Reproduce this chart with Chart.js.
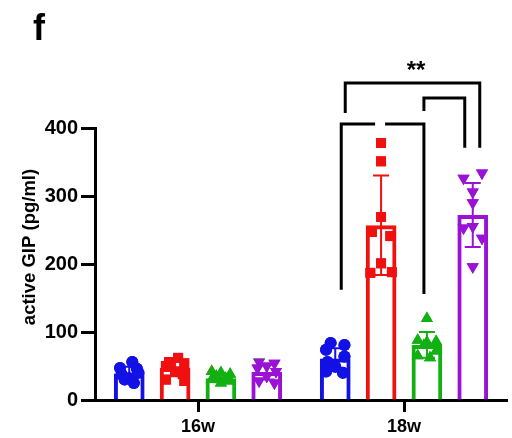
<!DOCTYPE html>
<html>
<head>
<meta charset="utf-8">
<script src="https://cdn.jsdelivr.net/npm/chart.js@4/dist/chart.umd.min.js"></script>
<style>
  html, body { margin: 0; padding: 0; background: #fff; }
  canvas { display: block; }
</style>
</head>
<body>
<canvas id="chart" width="512" height="438"></canvas>
<script>
// groups on the x axis
const groups = ['16w', '18w'];
const yTicks = [0, 100, 200, 300, 400];
const panelLabel = 'f';
const yTitle = 'active GIP (pg/ml)';
const sigText = '**';

// bar heights (group means)
const blueMean = [39, 61];
const redMean = [47, 257];
const greenMean = [32, 81];
const purpleMean = [41, 272];

// upper error (SD)
const blueSd = [10, 15];
const redSd = [12, 73];
const greenSd = [6, 19];
const purpleSd = [11, 47];

// individual points, one list per bar
const bluePts = [[56, 47, 46, 40, 38, 32, 30, 25], [84, 81, 74, 64, 56, 49, 42, 40]];
const redPts = [[62, 56, 54, 50, 42, 38, 30, 28], [378, 351, 269, 247, 241, 201, 187, 188]];
const greenPts = [[42, 40, 38, 35, 32, 30, 28, 25], [120, 88, 86, 85, 80, 72, 65, 62]];
const purplePts = [[56, 54, 50, 47, 42, 35, 28, 25], [334, 326, 306, 290, 255, 253, 238, 196]];

const colors = ['#1212e6', '#f01010', '#12b012', '#9a12d6'];
const markers = [
  { pointStyle: 'circle', radius: 6, rotation: 0 },
  { pointStyle: 'rect', radius: 7, rotation: 0 },
  { pointStyle: 'triangle', radius: 7, rotation: 0 },
  { pointStyle: 'triangle', radius: 7, rotation: 180 }
];
// horizontal spread of the points, as a share of bar width
const jitter = [
  [[0.1, -0.3, 0.25, 0.3, -0.25, 0, -0.15, 0.15], [-0.15, 0.3, -0.3, 0.3, -0.25, 0, -0.3, 0.25]],
  [[0.1, -0.2, 0.3, -0.3, 0, 0.25, -0.3, 0.3], [0, 0, 0, -0.3, 0.3, 0, -0.35, 0.35]],
  [[-0.3, 0, 0.3, -0.15, 0.15, -0.3, 0.3, 0], [0, -0.3, 0.3, 0, -0.1, 0.3, -0.3, 0.1]],
  [[-0.25, 0.25, 0, -0.3, 0.3, 0, -0.25, 0.25], [0.3, -0.3, 0, 0, 0, -0.3, 0.3, 0]]
];

const allPts = [bluePts, redPts, greenPts, purplePts];
const allSd = [blueSd, redSd, greenSd, purpleSd];

const extras = {
  id: 'extras',
  afterDatasetsDraw(chart) {
    const ctx = chart.ctx;
    const y = chart.scales.y;
    chart.data.datasets.forEach((ds, di) => {
      const meta = chart.getDatasetMeta(di);
      meta.data.forEach((bar, gi) => {
        const w = bar.width;
        // points
        allPts[di][gi].forEach((v, k) => {
          Chart.helpers.drawPoint(ctx, {
            pointStyle: markers[di].pointStyle,
            radius: markers[di].radius,
            rotation: markers[di].rotation,
            borderWidth: 0
          }, bar.x + jitter[di][gi][k] * w, y.getPixelForValue(v));
          ctx.fillStyle = colors[di];
          ctx.fill();
        });
        // error bar
        const top = y.getPixelForValue(ds.data[gi] + allSd[di][gi]);
        const bot = y.getPixelForValue(ds.data[gi] - allSd[di][gi]);
        ctx.save();
        ctx.strokeStyle = colors[di];
        ctx.lineWidth = 2;
        ctx.beginPath();
        ctx.moveTo(bar.x, top); ctx.lineTo(bar.x, bot);
        ctx.moveTo(bar.x - 8, top); ctx.lineTo(bar.x + 8, top);
        ctx.moveTo(bar.x - 8, bot); ctx.lineTo(bar.x + 8, bot);
        ctx.stroke();
        ctx.restore();
      });
    });
  },
  afterDraw(chart) {
    const ctx = chart.ctx;
    const y = chart.scales.y;
    const bx = (di) => chart.getDatasetMeta(di).data[1].x;
    ctx.save();
    ctx.strokeStyle = '#000';
    ctx.lineWidth = 3;
    ctx.lineCap = 'butt';
    // outer bracket
    ctx.beginPath();
    ctx.moveTo(bx(0) + 10, y.getPixelForValue(422));
    ctx.lineTo(bx(0) + 10, y.getPixelForValue(466));
    ctx.lineTo(bx(3) + 7, y.getPixelForValue(466));
    ctx.lineTo(bx(3) + 7, y.getPixelForValue(371));
    ctx.stroke();
    // green vs purple
    ctx.beginPath();
    ctx.moveTo(bx(2) - 3, y.getPixelForValue(425));
    ctx.lineTo(bx(2) - 3, y.getPixelForValue(444));
    ctx.lineTo(bx(3) - 8, y.getPixelForValue(444));
    ctx.lineTo(bx(3) - 8, y.getPixelForValue(371));
    ctx.stroke();
    // blue vs green (broken top line)
    ctx.beginPath();
    ctx.moveTo(bx(0) + 6, y.getPixelForValue(162));
    ctx.lineTo(bx(0) + 6, y.getPixelForValue(406));
    ctx.lineTo(bx(1) - 6, y.getPixelForValue(406));
    ctx.moveTo(bx(1) + 4, y.getPixelForValue(406));
    ctx.lineTo(bx(2) - 3, y.getPixelForValue(406));
    ctx.lineTo(bx(2) - 3, y.getPixelForValue(156));
    ctx.stroke();
    // stars
    ctx.fillStyle = '#000';
    ctx.font = 'bold 24px "Liberation Sans", Arial, sans-serif';
    ctx.textAlign = 'center';
    ctx.textBaseline = 'middle';
    ctx.fillText(sigText, (bx(0) + bx(3)) / 2 + 12, y.getPixelForValue(484));
    // panel label
    ctx.textAlign = 'left';
    ctx.textBaseline = 'alphabetic';
    ctx.font = 'bold 36px "Liberation Sans", Arial, sans-serif';
    ctx.fillText(panelLabel, 33, 40);
    // y title
    ctx.font = 'bold 18.5px "Liberation Sans", Arial, sans-serif';
    ctx.translate(30, 247);
    ctx.rotate(-Math.PI / 2);
    ctx.textAlign = 'center';
    ctx.textBaseline = 'middle';
    ctx.fillText(yTitle, 0, 0);
    ctx.restore();
  }
};

const means = [blueMean, redMean, greenMean, purpleMean];
const datasets = means.map((m, i) => ({
  label: 'group ' + (i + 1),
  data: m,
  backgroundColor: 'rgba(255,255,255,0)',
  borderColor: colors[i],
  borderWidth: 4,
  borderSkipped: 'start',
  barPercentage: 0.67,
  categoryPercentage: 0.89
}));

new Chart(document.getElementById('chart'), {
  type: 'bar',
  data: { labels: groups, datasets },
  options: {
    responsive: false,
    animation: false,
    devicePixelRatio: 1,
    layout: { padding: { top: 128, right: 5, left: 0, bottom: 0 } },
    plugins: { legend: { display: false }, tooltip: { enabled: false } },
    scales: {
      x: {
        grid: { drawOnChartArea: false, offset: false, tickLength: 12, tickColor: '#000', tickWidth: 3 },
        border: { color: '#000', width: 3 },
        ticks: { color: '#000', padding: 4, font: { family: '"Liberation Sans", Arial', size: 18, weight: 'bold' } },
        afterFit(s) { s.height = 38; }
      },
      y: {
        min: 0,
        max: 400,
        afterBuildTicks(s) { s.ticks = yTicks.map(v => ({ value: v })); },
        grid: { drawOnChartArea: false, tickLength: 14, tickColor: '#000', tickWidth: 3 },
        border: { color: '#000', width: 3 },
        ticks: { color: '#000', padding: 3, font: { family: '"Liberation Sans", Arial', size: 20, weight: 'bold' } },
        afterFit(s) { s.width = 95; }
      }
    }
  },
  plugins: [extras]
});
</script>
</body>
</html>
